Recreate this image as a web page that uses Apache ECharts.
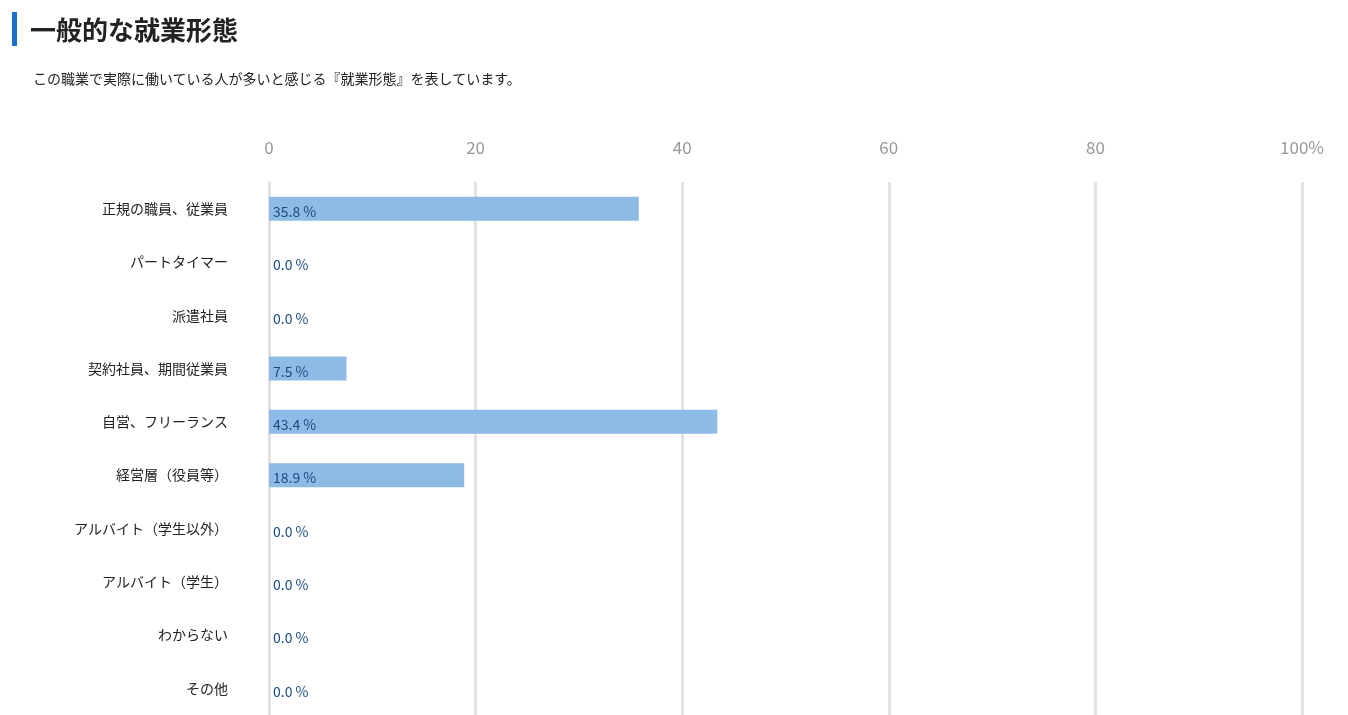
<!DOCTYPE html>
<html>
<head>
<meta charset="utf-8">
<script src="https://cdn.jsdelivr.net/npm/echarts@6/dist/echarts.min.js"></script>
<style>
body { margin: 0; background: #fff; font-family: "Noto Sans CJK JP", sans-serif; }
#head { position: absolute; left: 12px; top: 12px; border-left: 5px solid #1a6fcf; padding-left: 13px; font-size: 26px; font-weight: bold; color: #222; line-height: 34px; }
#sub { position: absolute; left: 33px; top: 68px; font-size: 14px; color: #222; }
#chart { position: absolute; left: 0; top: 0; width: 1348px; height: 715px; }
</style>
</head>
<body>
<div id="chart"></div>
<div id="head">一般的な就業形態</div>
<div id="sub">この職業で実際に働いている人が多いと感じる『就業形態』を表しています。</div>
<script>
let categories = ['正規の職員、従業員', 'パートタイマー', '派遣社員', '契約社員、期間従業員', '自営、フリーランス', '経営層（役員等）', 'アルバイト（学生以外）', 'アルバイト（学生）', 'わからない', 'その他'];
let values = [35.8, 0.0, 0.0, 7.5, 43.4, 18.9, 0.0, 0.0, 0.0, 0.0];
let tickLabels = ['0', '20', '40', '60', '80', '100%'];

let myChart = echarts.init(document.getElementById('chart'));

option = {
	grid: { left: 269, right: 46, top: 182, bottom: 0 },
	xAxis: {
		type: 'value',
		position: 'top',
		min: 0,
		max: 100,
		interval: 20,
		axisLine: { show: false },
		axisTick: { show: false },
		axisLabel: {
			color: '#999',
			fontSize: 17,
			margin: 26,
			fontFamily: 'Noto Sans CJK JP',
			formatter: (v) => tickLabels[v / 20]
		},
		splitLine: { lineStyle: { color: '#e3e3e3', width: 3 } }
	},
	yAxis: {
		type: 'category',
		inverse: true,
		data: categories,
		axisLine: { show: true, lineStyle: { color: '#ddd', width: 1 } },
		axisTick: { show: false },
		axisLabel: { color: '#222', fontSize: 14, margin: 41, fontFamily: 'Noto Sans CJK JP' }
	},
	series: [
		{
			type: 'bar',
			data: values,
			barWidth: 24,
			itemStyle: { color: '#8dbbe6' },
			label: {
				show: true,
				position: 'insideLeft',
				distance: 4,
				offset: [0, 3],
				color: '#1a4a7f',
				fontSize: 14,
				fontFamily: 'Noto Sans CJK JP',
				formatter: (p) => p.value.toFixed(1) + ' %'
			}
		}
	]
};

myChart.setOption(option);
</script>
</body>
</html>
